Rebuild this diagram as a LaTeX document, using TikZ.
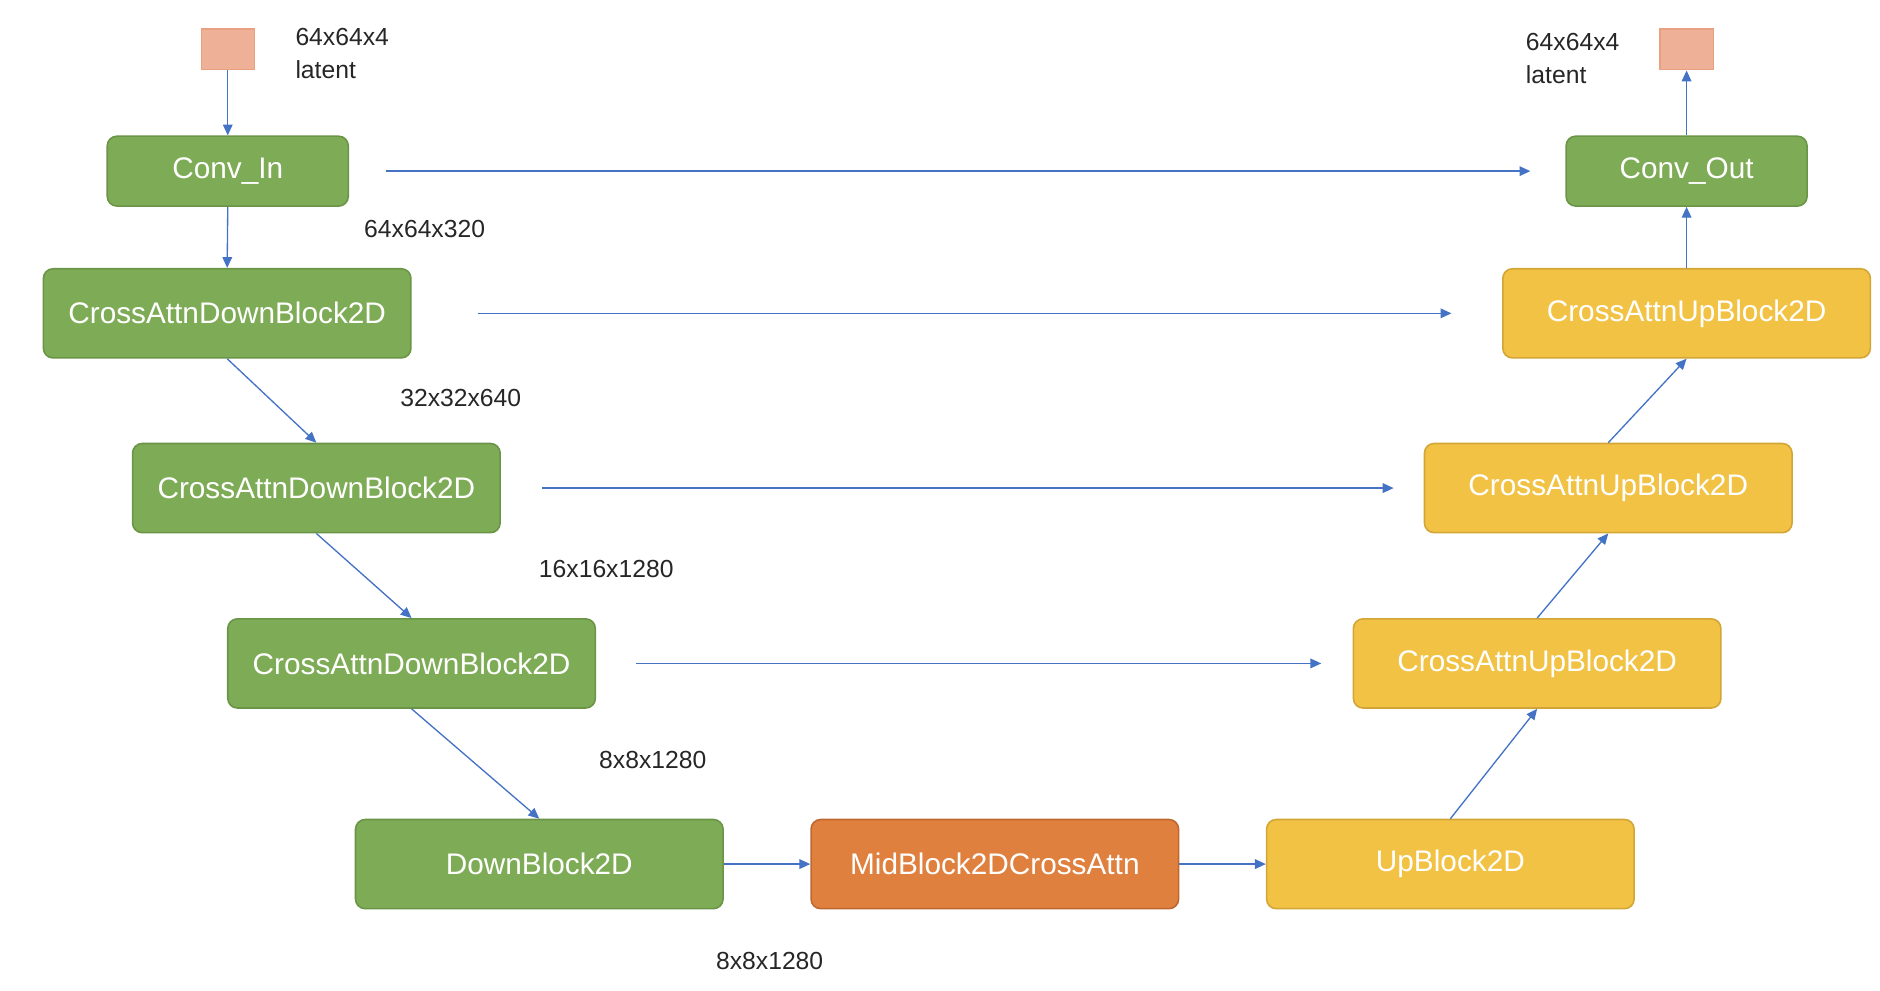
\documentclass[tikz,border=0pt]{standalone}
\usepackage{fontspec}
\setmainfont{Liberation Sans}
\usetikzlibrary{arrows.meta}
\definecolor{gfill}{HTML}{7EAB55}
\definecolor{gdraw}{HTML}{6A9446}
\definecolor{yfill}{HTML}{F2C244}
\definecolor{ydraw}{HTML}{D2A636}
\definecolor{ofill}{HTML}{E0803F}
\definecolor{odraw}{HTML}{BE6830}
\definecolor{lfill}{HTML}{EEB096}
\definecolor{ldraw}{HTML}{E9A080}
\definecolor{arr}{HTML}{4472C4}
\definecolor{lbl}{HTML}{262626}
\begin{document}
\begin{tikzpicture}[x=1pt,y=-1pt,
  blk/.style={rounded corners=8pt, line width=1.3pt, minimum height=74pt,
    minimum width=305pt, inner sep=0pt, text=white,
    font=\fontsize{24.7}{28}\selectfont},
  gblk/.style={blk, fill=gfill, draw=gdraw},
  yblk/.style={blk, fill=yfill, draw=ydraw},
  oblk/.style={blk, fill=ofill, draw=odraw},
  convbox/.style={gblk, minimum width=200pt, minimum height=58pt},
  latentbox/.style={fill=lfill, draw=ldraw, line width=1pt, minimum width=44pt,
    minimum height=34pt, inner sep=0pt},
  lab/.style={text=lbl, inner sep=0pt, anchor=west, font=\fontsize{20.5}{24}\selectfont},
  conn/.style={draw=arr, line width=1.1pt, -{Triangle[length=9pt,width=8pt]}}
]
\useasboundingbox (0,0) rectangle (1560,821.5);

% left column
\node[latentbox] (lin) at (189,41) {};
\node[lab] (linlab1) at (245,31) {64x64x4};
\node[lab] (linlab2) at (245,58) {latent};
\node[convbox] (convin) at (189,142) {Conv\_In};
\node[gblk] (cd1) at (188.5,260) {CrossAttnDownBlock2D};
\node[gblk] (cd2) at (262.5,405) {CrossAttnDownBlock2D};
\node[gblk] (cd3) at (341.5,550.5) {CrossAttnDownBlock2D};
\node[gblk] (db) at (447.5,717) {DownBlock2D};
\node[oblk] (mid) at (825.5,717) {MidBlock2DCrossAttn};
\node[yblk] (ub) at (1203.5,717) {UpBlock2D};
\node[yblk] (cu3) at (1275.5,550.5) {CrossAttnUpBlock2D};
\node[yblk] (cu2) at (1334.5,405) {CrossAttnUpBlock2D};
\node[yblk] (cu1) at (1399.5,260) {CrossAttnUpBlock2D};
\node[convbox] (convout) at (1399.5,142) {Conv\_Out};
\node[latentbox] (lout) at (1399.5,41) {};
\node[lab] (loutlab1) at (1266,35) {64x64x4};
\node[lab] (loutlab2) at (1266,62) {latent};

% size labels
\node[lab] (s1) at (302,190) {64x64x320};
\node[lab] (s2) at (332,330) {32x32x640};
\node[lab] (s3) at (447,472) {16x16x1280};
\node[lab] (s4) at (497,631) {8x8x1280};
\node[lab] (s5) at (594,797) {8x8x1280};

% main path
\draw[conn] (lin.south) -- (convin.north);
\draw[conn] (convin.south) -- (cd1.north);
\draw[conn] (cd1.south) -- (cd2.north);
\draw[conn] (cd2.south) -- (cd3.north);
\draw[conn] (cd3.south) -- (db.north);
\draw[conn] (db.east) -- (mid.west);
\draw[conn] (mid.east) -- (ub.west);
\draw[conn] (ub.north) -- (cu3.south);
\draw[conn] (cu3.north) -- (cu2.south);
\draw[conn] (cu2.north) -- (cu1.south);
\draw[conn] (cu1.north) -- (convout.south);
\draw[conn] (convout.north) -- (lout.south);

% skip connections
\draw[conn, shorten <=31pt, shorten >=29pt] (convin.east) -- (convout.west);
\draw[conn, shorten <=55pt, shorten >=42pt] (cd1.east) -- (cu1.west);
\draw[conn, shorten <=34pt, shorten >=25pt] (cd2.east) -- (cu2.west);
\draw[conn, shorten <=33pt, shorten >=26pt] (cd3.east) -- (cu3.west);
\end{tikzpicture}
\end{document}
